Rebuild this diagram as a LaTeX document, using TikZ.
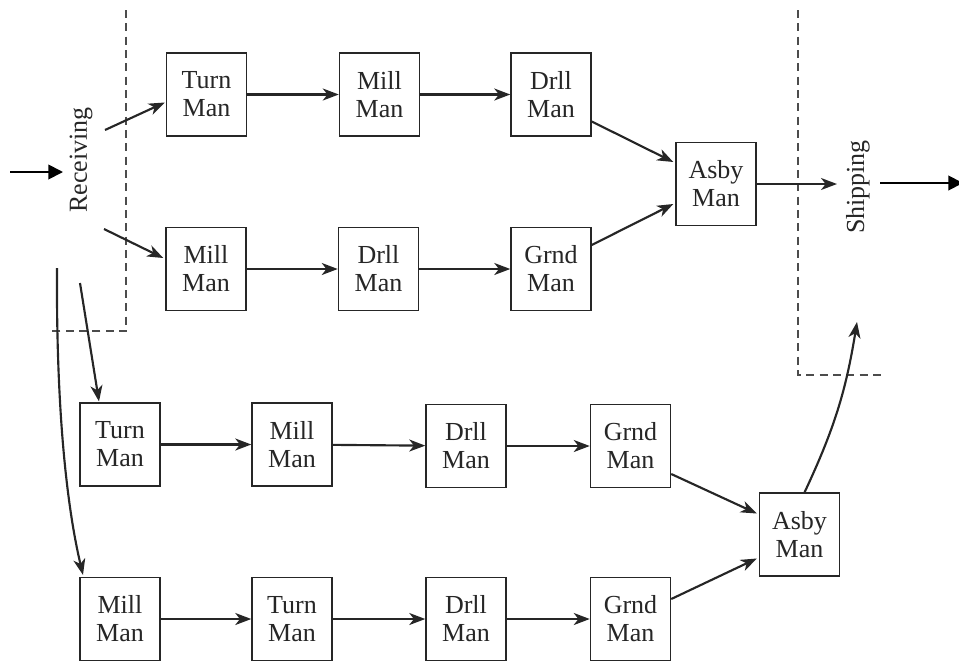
\documentclass[tikz,border=0pt]{standalone}
\usepackage{fontspec}
\setmainfont{Liberation Serif}
\usetikzlibrary{arrows.meta,calc}

\tikzset{
  machine/.style={draw=black!85, line width=1.1pt, fill=white,
    minimum width=60pt, minimum height=62pt, inner sep=0pt,
    align=center, font=\fontsize{19.5}{21}\selectfont, text=black!85},
  flow/.style={draw=black!85, line width=1.6pt,
    -{Stealth[length=12pt,width=9pt,inset=3.5pt]}},
  io/.style={draw=black, line width=1.4pt,
    -{Triangle[length=11pt,width=11pt]}},
  area/.style={draw=black!70, line width=0.9pt, dash pattern=on 6pt off 4pt},
  label/.style={rotate=90, font=\fontsize{19.5}{21}\selectfont, text=black!85, inner sep=0pt}
}

\begin{document}
\begin{tikzpicture}[x=0.75pt,y=-0.75pt]
  \useasboundingbox (0,0) rectangle (959,661);

  % department boundaries
  \draw[area] (126,10) -- (126,331) -- (52,331);
  \draw[area] (798,10) -- (798,375) -- (884,375);

  % department labels
  \node[label] (recv) at (81,160) {Receiving};
  \node[label] (ship) at (858,187) {Shipping};

  % upper cell
  \node[machine] (T1) at (206.5,94.5) {Turn\\Man};
  \node[machine] (M1) at (379.5,94.5) {Mill\\Man};
  \node[machine] (D1) at (551,94.5) {Drll\\Man};
  \node[machine] (A1) at (716,184) {Asby\\Man};
  \node[machine] (M2) at (206,269) {Mill\\Man};
  \node[machine] (D2) at (378.5,269) {Drll\\Man};
  \node[machine] (G2) at (551,269) {Grnd\\Man};

  % lower cell
  \node[machine] (T3) at (120,444.5) {Turn\\Man};
  \node[machine] (M3) at (292,444.5) {Mill\\Man};
  \node[machine] (D3) at (466,446) {Drll\\Man};
  \node[machine] (G3) at (630.5,446) {Grnd\\Man};
  \node[machine] (A3) at (799.5,534.5) {Asby\\Man};
  \node[machine] (M4) at (120,619) {Mill\\Man};
  \node[machine] (T4) at (292,619) {Turn\\Man};
  \node[machine] (D4) at (466,619) {Drll\\Man};
  \node[machine] (G4) at (630.5,619) {Grnd\\Man};

  % free ends of the connectors
  \coordinate (inS) at (10,172);
  \coordinate (inE) at (63,172);
  \coordinate (r1) at (105,130);
  \coordinate (r2) at (104,229);
  \coordinate (r3) at (80,283);
  \coordinate (r4) at (57,268);
  \coordinate (shipIn) at (837,184);
  \coordinate (shipUp) at (857,322);
  \coordinate (outS) at (880,183);
  \coordinate (outE) at (963,183);

  % material in and out
  \draw[io] (inS) -- (inE);
  \draw[io] (outS) -- (outE);

  % from receiving
  \draw[flow] (r1) -- ($(T1.west)+(-1,8)$);
  \draw[flow] (r2) -- ($(M2.west)+(-2,-11)$);
  \draw[flow] (r3) -- ($(T3.north)+(-21,-1)$);
  \draw[flow] (r4) .. controls (56,430) and (70,520) .. ($(M4.north)+(-37,-2)$);

  % upper cell flows
  \draw[flow] (T1) -- (M1);
  \draw[flow] (M1) -- (D1);
  \draw[flow] ($(D1.east)+(0,27)$) -- ($(A1.west)+(-2,-22)$);
  \draw[flow] (M2) -- (D2);
  \draw[flow] (D2) -- (G2);
  \draw[flow] ($(G2.east)+(0,-24)$) -- ($(A1.west)+(-2,20)$);
  \draw[flow] (A1.east) -- (shipIn);

  % lower cell flows
  \draw[flow] (T3) -- (M3);
  \draw[flow] (M3) -- (D3);
  \draw[flow] (D3) -- (G3);
  \draw[flow] ($(G3.east)+(0,28)$) -- ($(A3.west)+(-2,-21)$);
  \draw[flow] (M4) -- (T4);
  \draw[flow] (T4) -- (D4);
  \draw[flow] (D4) -- (G4);
  \draw[flow] ($(G4.east)+(0,-20)$) -- ($(A3.west)+(-2,24)$);
  \draw[flow] ($(A3.north)+(5,0)$) to[bend right=8] (shipUp);
\end{tikzpicture}
\end{document}
